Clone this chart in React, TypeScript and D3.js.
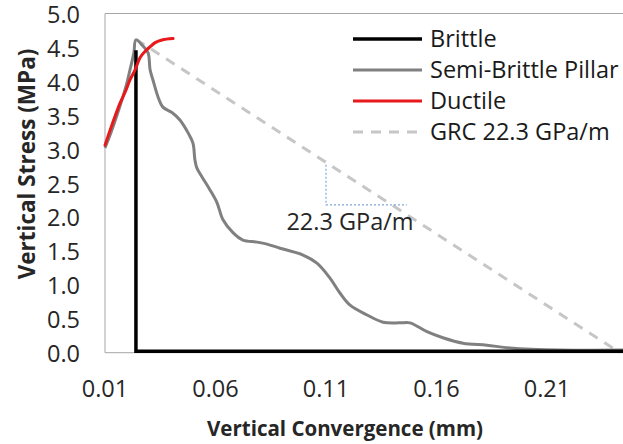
import React from "react";
import * as d3 from "d3";

const xTicks = [0.01, 0.06, 0.11, 0.16, 0.21];
const yTicks = [0, 0.5, 1, 1.5, 2, 2.5, 3, 3.5, 4, 4.5, 5];

const brittleX = [0.024, 0.024, 0.25];
const brittleY = [4.46, 0.02, 0.02];

const semiX = [0.01, 0.0123, 0.015, 0.0177, 0.02, 0.0213, 0.0222, 0.0231, 0.024, 0.0272, 0.0295, 0.0304, 0.0317, 0.034, 0.0362, 0.0403, 0.0439, 0.0476, 0.0498, 0.0507, 0.0516, 0.0539, 0.0575, 0.0607, 0.0634, 0.0679, 0.0724, 0.0788, 0.0833, 0.0892, 0.0996, 0.1059, 0.1118, 0.1163, 0.1209, 0.1286, 0.1358, 0.1435, 0.148, 0.1557, 0.1629, 0.172, 0.1828, 0.1933, 0.2159, 0.25];
const semiY = [3.02, 3.21, 3.46, 3.73, 3.99, 4.17, 4.29, 4.43, 4.61, 4.52, 4.42, 4.17, 4.02, 3.77, 3.62, 3.54, 3.43, 3.24, 3.09, 2.84, 2.72, 2.59, 2.4, 2.21, 1.96, 1.77, 1.66, 1.63, 1.6, 1.54, 1.44, 1.32, 1.1, 0.88, 0.7, 0.556, 0.45, 0.44, 0.44, 0.31, 0.22, 0.14, 0.11, 0.07, 0.04, 0.04];

const ductileX = [0.01, 0.0123, 0.0145, 0.0168, 0.0191, 0.0213, 0.0236, 0.0259, 0.0281, 0.0304, 0.0327, 0.0358, 0.0408];
const ductileY = [3.06, 3.28, 3.48, 3.68, 3.84, 4.02, 4.17, 4.35, 4.44, 4.51, 4.57, 4.61, 4.63];

const grcX = [0.024, 0.243];
const grcY = [4.62, 0];

const triX = [0.11, 0.11, 0.1466];
const triY = [2.77, 2.18, 2.18];

const legendLabels = ["Brittle", "Semi-Brittle Pillar", "Ductile", "GRC 22.3 GPa/m"];

const W = 623;
const H = 444;
const left = 105;
const top = 13.5;
const bottom = 352.7;
const FONT = "'Open Sans', sans-serif";
const FS = 23.5;

export default function App() {
  const x = d3.scaleLinear().domain([0.01, 0.25]).range([left, left + 0.24 * 2210]);
  const y = d3.scaleLinear().domain([0, 5]).range([bottom, top]);
  const pts = (xs: number[], ys: number[]) => xs.map((v, i) => [v, ys[i]] as [number, number]);
  const lin = d3.line<[number, number]>().x((d) => x(d[0])).y((d) => y(d[1]));
  const smooth = d3
    .line<[number, number]>()
    .x((d) => x(d[0]))
    .y((d) => y(d[1]))
    .curve(d3.curveCatmullRom.alpha(0.5));

  const legend = [
    { label: legendLabels[0], color: "#000000", dash: undefined, w: 3.5 },
    { label: legendLabels[1], color: "#808080", dash: undefined, w: 3 },
    { label: legendLabels[2], color: "#e8191b", dash: undefined, w: 3 },
    { label: legendLabels[3], color: "#c6c6c6", dash: "10 8", w: 3 },
  ];

  return (
    <svg
      width={W}
      height={H}
      style={{ position: "absolute", left: 0, top: 0, background: "#fff" }}
      fontFamily={FONT}
    >
      <rect x={0} y={0} width={W} height={H} fill="#fff" />
      {/* plot border */}
      <line x1={left} x2={W} y1={top} y2={top} stroke="#a6a6a6" strokeWidth={1} />
      <line x1={left} x2={left} y1={top} y2={bottom} stroke="#a6a6a6" strokeWidth={1} />
      <line x1={left} x2={W} y1={bottom} y2={bottom} stroke="#a6a6a6" strokeWidth={1} />

      {/* y ticks */}
      {yTicks.map((t) => (
        <text key={t} x={80} y={y(t)} dy="0.4em" textAnchor="end" fontSize={FS} fill="#262626">
          {t.toFixed(1)}
        </text>
      ))}
      {/* x ticks */}
      {xTicks.map((t) => (
        <text key={t} x={x(t)} y={397} textAnchor="middle" fontSize={FS} fill="#262626">
          {t.toFixed(2)}
        </text>
      ))}

      {/* titles */}
      <text
        transform={`translate(35,164) rotate(-90)`}
        textAnchor="middle"
        fontSize={22.5}
        fontWeight="bold"
        fill="#262626"
      >
        Vertical Stress (MPa)
      </text>
      <text x={345} y={436} textAnchor="middle" fontSize={20.5} fontWeight="bold" fill="#262626">
        Vertical Convergence (mm)
      </text>

      {/* GRC line */}
      <path d={lin(pts(grcX, grcY)) || ""} fill="none" stroke="#c6c6c6" strokeWidth={3} strokeDasharray="10 8" />
      {/* semi-brittle */}
      <path d={smooth(pts(semiX, semiY)) || ""} fill="none" stroke="#808080" strokeWidth={3} strokeLinejoin="round" />
      {/* brittle */}
      <path d={lin(pts(brittleX, brittleY)) || ""} fill="none" stroke="#000" strokeWidth={3.5} />
      {/* ductile */}
      <path d={smooth(pts(ductileX, ductileY)) || ""} fill="none" stroke="#e8191b" strokeWidth={3} strokeLinecap="round" />

      {/* slope triangle */}
      <path
        d={lin(pts(triX, triY)) || ""}
        fill="none"
        stroke="#7fa7d6"
        strokeWidth={1.2}
        strokeDasharray="2 2"
      />
      <text x={350} y={230} textAnchor="middle" fontSize={FS} fill="#262626">
        22.3 GPa/m
      </text>

      {/* legend */}
      {legend.map((l, i) => {
        const ly = 39 + i * 31;
        return (
          <g key={l.label}>
            <line x1={353} x2={422} y1={ly} y2={ly} stroke={l.color} strokeWidth={l.w} strokeDasharray={l.dash} />
            <text x={430} y={ly} dy="0.36em" fontSize={FS} fill="#1a1a1a">
              {l.label}
            </text>
          </g>
        );
      })}
    </svg>
  );
}
